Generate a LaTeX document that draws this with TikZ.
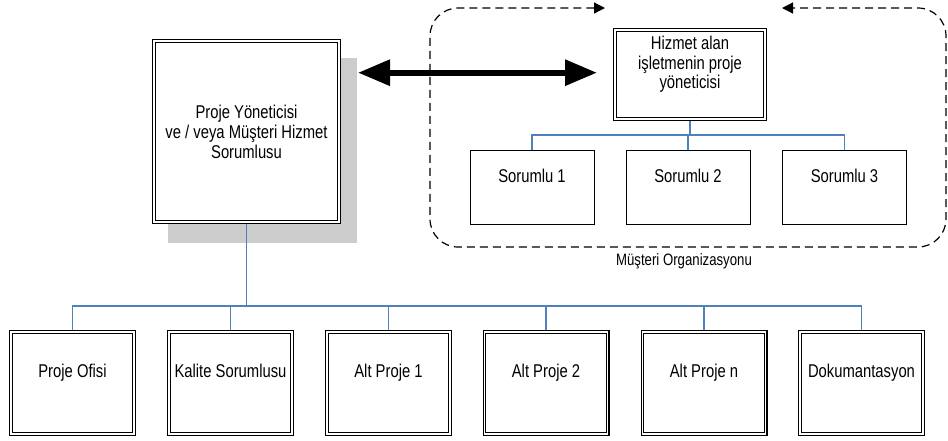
\documentclass[tikz,border=0pt]{standalone}
\usepackage{fontspec}
\setmainfont{Liberation Sans}[FakeStretch=0.8]
\usetikzlibrary{arrows.meta,shadows,calc}
\definecolor{treeblue}{HTML}{4F81BD}
\definecolor{shadowgray}{HTML}{CCCCCC}
\begin{document}
\begin{tikzpicture}[x=1pt,y=-1pt,
  every node/.style={font=\fontsize{18.5}{20}\selectfont},
  dbox/.style={draw=black, line width=1.1pt, double=white, double distance=1.6pt,
    fill=white, inner sep=0pt, outer sep=1.9pt, align=center},
  sbox/.style={draw=black, line width=1pt, fill=white, minimum width=124pt,
    minimum height=74pt, inner sep=0pt, outer sep=0.5pt,
    text height=13pt, text depth=24pt},
  unitbox/.style={dbox, minimum width=123.2pt, minimum height=102.2pt,
    text height=13pt, text depth=24pt},
  tree/.style={draw=treeblue, line width=1.3pt},
  link/.style={line width=6pt,
    {Triangle[length=32pt,width=25pt]}-{Triangle[length=32pt,width=25pt]},
    shorten <=17pt, shorten >=16pt},
  orgframe/.style={line width=1.2pt, dash pattern=on 8pt off 5pt,
    rounded corners=28pt,
    {Triangle[length=11pt,width=11pt]}-{Triangle[length=11pt,width=11pt]}},
]
\useasboundingbox (0,0) rectangle (948,440);

% customer organisation frame
\draw[orgframe] (605,8) -- (430,8) -- (430,247) -- (946,247) -- (946,8) -- (782,8);
\node[anchor=base, font=\fontsize{16.5}{18}\selectfont] (orglabel) at (684,265)
  {Müşteri Organizasyonu};

% project lead with shadow
\node[dbox, minimum width=185.2pt, minimum height=181.2pt,
  drop shadow={shadow xshift=15.5pt, shadow yshift=-19pt, shadow scale=1.021,
    fill=shadowgray, opacity=1}]
  (lead) at (246.5,131.5) {Proje Yöneticisi\\ve / veya Müşteri Hizmet\\Sorumlusu};

% client-side project manager
\node[dbox, minimum width=150.2pt, minimum height=89.2pt] (client) at (690,74.5) {};
\node[anchor=north, inner sep=0pt, align=center,
  font=\fontsize{18.5}{19.5}\selectfont] (clienttext)
  at ([yshift=-8pt]client.north) {Hizmet alan\\işletmenin proje\\yöneticisi};

% client staff
\node[sbox] (s1) at (532,187.5) {Sorumlu 1};
\node[sbox] (s2) at (688,187.5) {Sorumlu 2};
\node[sbox] (s3) at (844.5,187.5) {Sorumlu 3};

% project units
\node[unitbox] (u1) at (72.5,383) {Proje Ofisi};
\node[unitbox] (u2) at (230.5,383) {Kalite Sorumlusu};
\node[unitbox] (u3) at (388.5,383) {Alt Proje 1};
\node[unitbox] (u4) at (546,383) {Alt Proje 2};
\node[unitbox] (u5) at (704,383) {Alt Proje n};
\node[unitbox] (u6) at (861.5,383) {Dokumantasyon};

% connectors
\draw[link] ($(lead.east |- client.west)+(0,-1.8)$) -- ($(client.west)+(0,-1.8)$);

\draw[tree] (lead.south) -- ++(0,82) coordinate (hub);
\foreach \u in {u1,u2,u3,u4,u5,u6}
  \draw[tree] (hub) -| (\u.north);

\draw[tree] (client.south) -- ++(0,14) coordinate (chub);
\foreach \s in {s1,s2,s3}
  \draw[tree] (chub) -| (\s.north);
\end{tikzpicture}
\end{document}
